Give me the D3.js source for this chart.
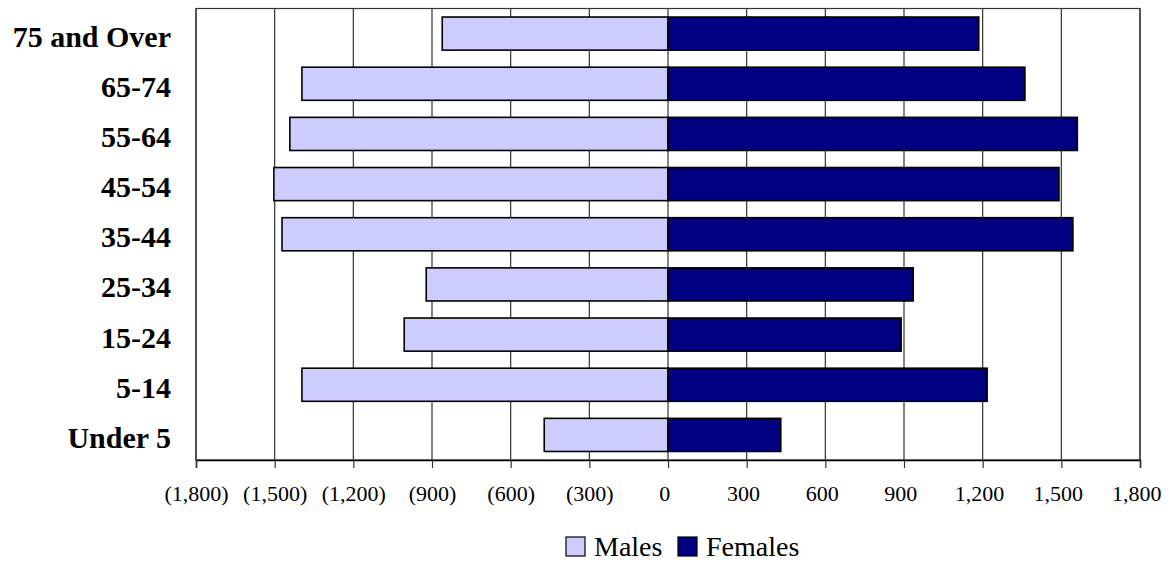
<!DOCTYPE html>
<html>
<head>
<meta charset="utf-8">
<script src="https://cdn.jsdelivr.net/npm/d3@7"></script>
<style>
  body { margin: 0; background: #fff; }
  svg { display: block; font-family: "Liberation Serif", "Times New Roman", serif; }
</style>
</head>
<body>
<div id="wrapper"></div>
<script>
// data, top row first
const ageGroups = ["75 and Over", "65-74", "55-64", "45-54", "35-44", "25-34", "15-24", "5-14", "Under 5"];
const males = [-861, -1396, -1442, -1503, -1472, -922, -1006, -1396, -472];
const females = [1185, 1361, 1561, 1491, 1544, 935, 889, 1217, 430];
const xTicks = [-1800, -1500, -1200, -900, -600, -300, 0, 300, 600, 900, 1200, 1500, 1800];
const seriesNames = ["Males", "Females"];
const seriesColors = ["#ccccff", "#000080"];

const drawChart = () => {
  // 1. Data
  const dataset = ageGroups.map((group, i) => ({
    group,
    Males: males[i],
    Females: females[i],
  }));

  // 2. Dimensions
  let dimensions = {
    width: 1170,
    height: 563,
    marginTop: 8.5,
    marginRight: 30,
    marginBottom: 103,
    marginLeft: 196
  };
  dimensions.boundedWidth = dimensions.width - dimensions.marginLeft - dimensions.marginRight;
  dimensions.boundedHeight = dimensions.height - dimensions.marginTop - dimensions.marginBottom;

  // 3. Canvas
  const wrapper = d3.select("#wrapper")
    .append("svg")
      .attr("width", dimensions.width)
      .attr("height", dimensions.height);

  const bounds = wrapper.append("g")
      .attr("transform", `translate(${dimensions.marginLeft}, ${dimensions.marginTop})`);

  // 4. Scales
  const xScale = d3.scaleLinear()
    .domain([-1800, 1800])
    .range([0, dimensions.boundedWidth]);

  const yScale = d3.scaleBand()
    .domain(ageGroups)
    .range([0, dimensions.boundedHeight])
    .paddingInner(0.34)
    .paddingOuter(0.17);

  const colorScale = d3.scaleOrdinal()
    .domain(seriesNames)
    .range(seriesColors);

  // 5. Gridlines + frame
  bounds.append("g")
    .selectAll("line")
    .data(xTicks)
    .join("line")
      .attr("x1", d => xScale(d))
      .attr("x2", d => xScale(d))
      .attr("y1", 0)
      .attr("y2", dimensions.boundedHeight)
      .attr("stroke", "#333")
      .attr("stroke-width", 1.2);

  bounds.append("rect")
    .attr("width", dimensions.boundedWidth)
    .attr("height", dimensions.boundedHeight)
    .attr("fill", "none")
    .attr("stroke", "#333")
    .attr("stroke-width", 1.2);

  // 6. Bars
  seriesNames.forEach(name => {
    bounds.append("g")
      .selectAll("rect")
      .data(dataset)
      .join("rect")
        .attr("x", d => xScale(Math.min(0, d[name])))
        .attr("y", d => yScale(d.group))
        .attr("width", d => Math.abs(xScale(d[name]) - xScale(0)))
        .attr("height", yScale.bandwidth())
        .attr("fill", colorScale(name))
        .attr("stroke", "#000")
        .attr("stroke-width", 1.6);
  });

  // 7. Axes
  const fmt = d3.format(",");
  const xAxisGenerator = d3.axisBottom(xScale)
    .tickValues(xTicks)
    .tickSize(8)
    .tickPadding(0)
    .tickFormat(d => d < 0 ? `(${fmt(-d)})` : fmt(d));

  const xAxis = bounds.append("g")
    .attr("transform", `translate(0, ${dimensions.boundedHeight})`)
    .attr("font-family", null)
    .call(xAxisGenerator);

  xAxis.attr("font-family", "Liberation Serif, Times New Roman, serif")
    .attr("font-size", 22);

  xAxis.select(".domain")
    .attr("stroke", "#000")
    .attr("stroke-width", 1.5);
  xAxis.selectAll(".tick line")
    .attr("stroke", "#333")
    .attr("stroke-width", 1.2);
  xAxis.selectAll(".tick text")
    .attr("y", 41)
    .attr("dy", 0)
    // excel leaves room for a closing paren on positive numbers
    .attr("dx", d => d < 0 ? 0 : -3.7)
    .attr("fill", "#000");

  bounds.append("g")
    .selectAll("text")
    .data(ageGroups)
    .join("text")
      .attr("x", -25)
      .attr("y", d => yScale(d) + yScale.bandwidth() / 2 + 13)
      .attr("text-anchor", "end")
      .style("font-size", "30px")
      .style("font-weight", "bold")
      .text(d => d);

  // 8. Legend
  const legend = wrapper.append("g")
    .attr("transform", "translate(566, 537)");

  const legendItems = [
    { name: "Males", x: 0 },
    { name: "Females", x: 112 },
  ];

  const item = legend.selectAll("g")
    .data(legendItems)
    .join("g")
      .attr("transform", d => `translate(${d.x}, 0)`);

  item.append("rect")
    .attr("width", 19)
    .attr("height", 19)
    .attr("fill", d => colorScale(d.name))
    .attr("stroke", "#000")
    .attr("stroke-width", 1.2);

  item.append("text")
    .attr("x", 28)
    .attr("y", 19)
    .style("font-size", "28px")
    .text(d => d.name);
};

drawChart();
</script>
</body>
</html>
